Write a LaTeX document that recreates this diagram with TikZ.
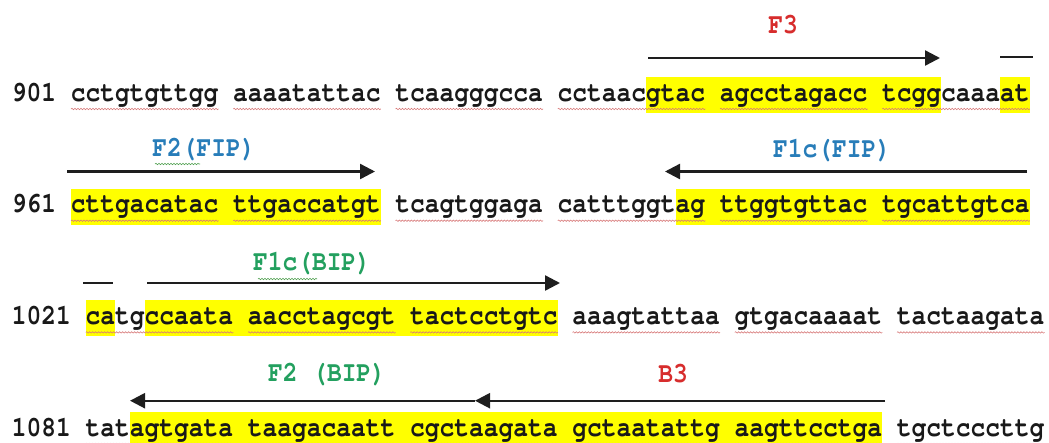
\documentclass[tikz,border=0pt]{standalone}
\usepackage[T1]{fontenc}
\usepackage{graphicx}
\usetikzlibrary{arrows.meta,decorations.pathmorphing}
\newcommand\seqfont{\fontencoding{T1}\fontfamily{pcr}\fontseries{b}\fontshape{n}\fontsize{24.58}{30}\selectfont}
\newcommand\tallify[1]{\scalebox{1}[1.17]{#1}}
\definecolor{hlyellow}{RGB}{255,255,0}
\definecolor{seqtext}{RGB}{25,25,25}
\definecolor{lblred}{RGB}{215,45,45}
\definecolor{lblblue}{RGB}{40,125,185}
\definecolor{lblgreen}{RGB}{35,160,95}
\definecolor{wavyred}{RGB}{215,120,120}
\definecolor{wavygreen}{RGB}{80,160,80}
\definecolor{arrowgray}{RGB}{30,30,30}
\def\xo{12}
\def\cw{14.75}
\def\bA{101}
\def\bB{212.7}
\def\bC{324.4}
\def\bD{436}
\begin{document}
\begin{tikzpicture}[x=1pt,y=-1pt,
  seq/.style={anchor=base west, inner sep=0pt, outer sep=0pt, text=seqtext, font=\seqfont},
  lbl/.style={anchor=base, inner sep=0pt, font=\seqfont},
  hl/.style={fill=hlyellow},
  wavy/.style={draw=wavyred, line width=0.6pt, decorate, decoration={snake, amplitude=0.7pt, segment length=3pt}},
  wavyg/.style={wavy, draw=wavygreen},
  primer/.style={draw=arrowgray, line width=2.4pt, -{Triangle[length=15pt,width=15pt]}},
  bar/.style={draw=arrowgray, line width=2.4pt}]
\useasboundingbox (0,0) rectangle (1049,442);
\clip (0,0) rectangle (1049,442);
% highlights
\fill[hl] ({\xo+43*\cw},{\bA-24}) rectangle ({\xo+63*\cw},{\bA+12});
\fill[hl] ({\xo+67*\cw},{\bA-24}) rectangle ({\xo+69*\cw},{\bA+12});
\fill[hl] ({\xo+4*\cw},{\bB-24}) rectangle ({\xo+25*\cw},{\bB+12});
\fill[hl] ({\xo+45*\cw},{\bB-24}) rectangle ({\xo+69*\cw},{\bB+12});
\fill[hl] ({\xo+5*\cw},{\bC-24}) rectangle ({\xo+7*\cw},{\bC+12});
\fill[hl] ({\xo+9*\cw},{\bC-24}) rectangle ({\xo+37*\cw},{\bC+12});
\fill[hl] ({\xo+8*\cw},{\bD-24}) rectangle ({\xo+59*\cw},{\bD+12});
% spell-check underlines
\foreach \k in {0,...,5}{
  \draw[wavy] ({\xo+(4+11*\k)*\cw},{\bA+8}) -- ++({10*\cw},0);
  \draw[wavy] ({\xo+(4+11*\k)*\cw},{\bB+8}) -- ++({10*\cw},0);
  \draw[wavy] ({\xo+(5+11*\k)*\cw},{\bC+8}) -- ++({10*\cw},0);
  \draw[wavy] ({\xo+(5+11*\k)*\cw},{\bD+8}) -- ++({10*\cw},0);
}
% sequence rows
\node[seq] (row1) at (\xo,\bA) {\tallify{901 cctgtgttgg aaaatattac tcaagggcca cctaacgtac agcctagacc tcggcaaaat}};
\node[seq] (row2) at (\xo,\bB) {\tallify{961 cttgacatac ttgaccatgt tcagtggaga catttggtag ttggtgttac tgcattgtca}};
\node[seq] (row3) at (\xo,\bC) {\tallify{1021 catgccaata aacctagcgt tactcctgtc aaagtattaa gtgacaaaat tactaagata}};
\node[seq] (row4) at (\xo,\bD) {\tallify{1081 tatagtgata taagacaatt cgctaagata gctaatattg aagttcctga tgctcccttg}};
% labels
\node[lbl, text=lblred] (lF3) at (783,33) {\tallify{F3}};
\node[lbl, text=lblblue] (lF2FIP) at (204,156) {\tallify{F2(FIP)}};
\node[lbl, text=lblblue] (lF1cFIP) at (832,157) {\tallify{F1c(FIP)}};
\node[lbl, text=lblgreen] (lF1cBIP) at (312,270) {\tallify{F1c(BIP)}};
\node[lbl, text=lblgreen] (lF2BIP) at (327,381) {\tallify{F2 (BIP)}};
\node[lbl, text=lblred] (lB3) at (673,382) {\tallify{B3}};
\draw[wavyg] (155,164) -- (200,164);
\draw[wavyg] (258,279) -- (317,279);
% primer arrows
\coordinate (f3a) at (648,58);  \coordinate (f3b) at (940,58);
\coordinate (d1a) at (1000,57); \coordinate (d1b) at (1033,57);
\coordinate (f2a) at (67,171.5); \coordinate (f2b) at (375,171.5);
\coordinate (f1a) at (1027,171.5); \coordinate (f1b) at (665,171.5);
\coordinate (d3a) at (83,283); \coordinate (d3b) at (113,283);
\coordinate (b1a) at (147,283); \coordinate (b1b) at (560,283);
\coordinate (b3a) at (885,400.7); \coordinate (b3b) at (475,400.7);
\coordinate (b2b) at (130,400.7);
\draw[primer] (f3a) -- (f3b);
\draw[bar] (d1a) -- (d1b);
\draw[primer] (f2a) -- (f2b);
\draw[primer] (f1a) -- (f1b);
\draw[bar] (d3a) -- (d3b);
\draw[primer] (b1a) -- (b1b);
\draw[primer] (b3a) -- (b3b);
\draw[primer] (b3b) -- (b2b);
\end{tikzpicture}
\end{document}
